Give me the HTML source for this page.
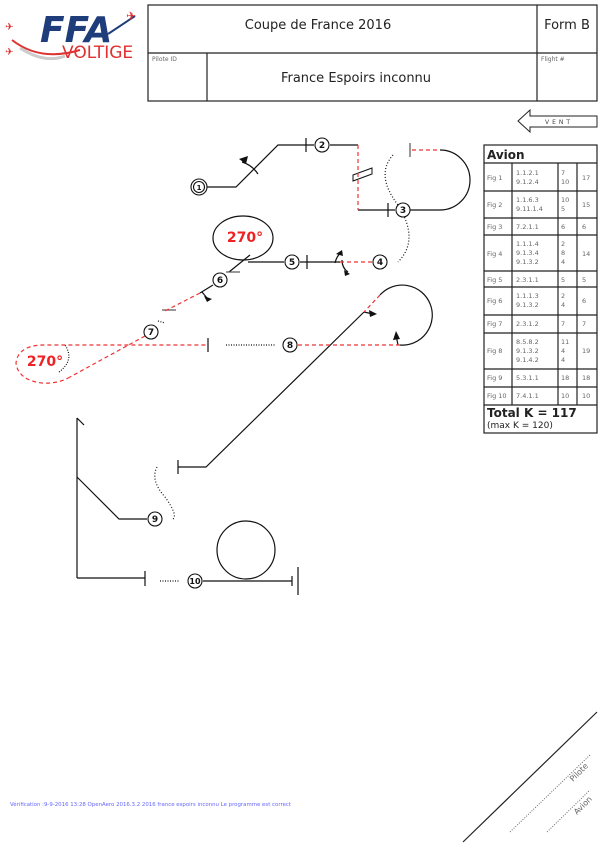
<!DOCTYPE html>
<html><head><meta charset="utf-8"><style>
body{margin:0;background:#fff;width:600px;height:847px;overflow:hidden}
svg{display:block}
text{font-family:"DejaVu Sans","Liberation Sans",sans-serif}
</style></head><body>
<svg width="600" height="847" viewBox="0 0 600 847">
<!-- logo -->
<text x="40" y="42" font-size="36" font-weight="bold" font-style="italic" fill="#1f3d7a" font-family="Liberation Sans">FFA</text>
<path d="M12 40 Q40 62 80 50" stroke="#d33" stroke-width="2" fill="none"/>
<path d="M20 48 Q45 64 65 56" stroke="#ccc" stroke-width="3" fill="none"/>
<path d="M108 34 L135 16" stroke="#1f3d7a" stroke-width="2"/>
<text x="62" y="58" font-size="17" fill="#e03030" font-family="Liberation Sans">VOLTIGE</text>
<text x="126" y="20" font-size="12" fill="#e03030">✈</text>
<text x="5" y="30" font-size="10" fill="#e03030">✈</text>
<text x="5" y="55" font-size="10" fill="#e03030">✈</text>
<!-- header -->
<g stroke="#222" stroke-width="1.2" fill="none">
<rect x="148" y="5" width="449" height="96"/>
<line x1="148" y1="53" x2="597" y2="53"/>
<line x1="537" y1="5" x2="537" y2="101"/>
<line x1="207" y1="53" x2="207" y2="101"/>
</g>
<text x="318" y="29" font-size="13" text-anchor="middle" fill="#222">Coupe de France 2016</text>
<text x="567" y="29" font-size="13" text-anchor="middle" fill="#222">Form B</text>
<text x="152" y="61" font-size="6" fill="#666">Pilote ID</text>
<text x="541" y="61" font-size="6" fill="#666">Flight #</text>
<text x="356" y="82" font-size="13" text-anchor="middle" fill="#222">France Espoirs inconnu</text>
<!-- vent -->
<polygon points="530,110 530,116 597,116 597,127 530,127 530,132 518,121" fill="none" stroke="#222"/>
<text x="559" y="124" font-size="6" fill="#444" text-anchor="middle" letter-spacing="3">VENT</text>
<!-- table -->
<g stroke="#222" stroke-width="1.2" fill="none">
<rect x="484" y="145" width="113" height="288"/>
<line x1="484" y1="163" x2="597" y2="163"/>
<line x1="484" y1="191" x2="597" y2="191"/>
<line x1="484" y1="218" x2="597" y2="218"/>
<line x1="484" y1="235" x2="597" y2="235"/>
<line x1="484" y1="271" x2="597" y2="271"/>
<line x1="484" y1="287" x2="597" y2="287"/>
<line x1="484" y1="315" x2="597" y2="315"/>
<line x1="484" y1="333" x2="597" y2="333"/>
<line x1="484" y1="369" x2="597" y2="369"/>
<line x1="484" y1="387" x2="597" y2="387"/>
<line x1="484" y1="405" x2="597" y2="405"/>
<line x1="512" y1="163" x2="512" y2="405"/>
<line x1="558" y1="163" x2="558" y2="405"/>
<line x1="577" y1="163" x2="577" y2="405"/>
</g>
<text x="487" y="159" font-size="12" font-weight="bold" fill="#222">Avion</text>
<g font-size="6.5" fill="#666">
<text x="487" y="180">Fig 1</text><text x="516" y="175">1.1.2.1</text><text x="516" y="184">9.1.2.4</text><text x="561" y="175">7</text><text x="561" y="184">10</text><text x="582" y="180">17</text>
<text x="487" y="207">Fig 2</text><text x="516" y="202">1.1.6.3</text><text x="516" y="211">9.11.1.4</text><text x="561" y="202">10</text><text x="561" y="211">5</text><text x="582" y="207">15</text>
<text x="487" y="229">Fig 3</text><text x="516" y="229">7.2.1.1</text><text x="561" y="229">6</text><text x="582" y="229">6</text>
<text x="487" y="256">Fig 4</text><text x="516" y="246">1.1.1.4</text><text x="516" y="255">9.1.3.4</text><text x="516" y="264">9.1.3.2</text><text x="561" y="246">2</text><text x="561" y="255">8</text><text x="561" y="264">4</text><text x="582" y="256">14</text>
<text x="487" y="282">Fig 5</text><text x="516" y="282">2.3.1.1</text><text x="561" y="282">5</text><text x="582" y="282">5</text>
<text x="487" y="303">Fig 6</text><text x="516" y="298">1.1.1.3</text><text x="516" y="307">9.1.3.2</text><text x="561" y="298">2</text><text x="561" y="307">4</text><text x="582" y="303">6</text>
<text x="487" y="326">Fig 7</text><text x="516" y="326">2.3.1.2</text><text x="561" y="326">7</text><text x="582" y="326">7</text>
<text x="487" y="353">Fig 8</text><text x="516" y="344">8.5.8.2</text><text x="516" y="353">9.1.3.2</text><text x="516" y="362">9.1.4.2</text><text x="561" y="344">11</text><text x="561" y="353">4</text><text x="561" y="362">4</text><text x="582" y="353">19</text>
<text x="487" y="380">Fig 9</text><text x="516" y="380">5.3.1.1</text><text x="561" y="380">18</text><text x="582" y="380">18</text>
<text x="487" y="398">Fig 10</text><text x="516" y="398">7.4.1.1</text><text x="561" y="398">10</text><text x="582" y="398">10</text>
</g>
<text x="487" y="417" font-size="12" font-weight="bold" fill="#222">Total K = 117</text>
<text x="487" y="428" font-size="9" fill="#222">(max K = 120)</text>

<!-- figures -->
<g stroke="#111" stroke-width="1.2" fill="none">
<polyline points="205,187 236,187 278,145 314,145"/>
<line x1="306" y1="138" x2="306" y2="152"/>
<path d="M242 162 Q252 165 258 174"/>
<polyline points="330,145 358,145"/>
<polygon points="353,175 372,168 372,174 353,181" stroke-width="1"/>
<polyline points="358,210 395,210"/>
<line x1="388" y1="203" x2="388" y2="217"/>
<path d="M410 210 L440 210 A30 30 0 0 0 440 150"/>
<line x1="410" y1="143" x2="410" y2="157" stroke="#555"/>
<path d="M393 155 Q375 175 398 205 Q420 240 398 262" stroke-dasharray="1,2"/>
<polyline points="340,262 300,262"/>
<line x1="307" y1="255" x2="307" y2="269"/>
<path d="M335 263 Q337 255 342 252"/>
<path d="M342 260 Q342 268 348 272"/>
<line x1="284" y1="262" x2="248" y2="262"/>
<ellipse cx="243" cy="238" rx="30" ry="22"/>
<polyline points="250,255 229,272"/>
<line x1="226" y1="272" x2="240" y2="272" stroke="#555"/>
<polyline points="213,285 200,293"/>
<path d="M202 292 L207 298"/>
<line x1="162" y1="310" x2="176" y2="310" stroke="#555"/>
<line x1="208" y1="338" x2="208" y2="352"/>
<line x1="226" y1="345" x2="275" y2="345" stroke-dasharray="1,1.5"/>
<path d="M158 321 L165 323" stroke-dasharray="1,1.5"/>
<path d="M400 345 A30 30 0 1 0 380 295"/>
<line x1="398" y1="345" x2="396" y2="335"/>
<polyline points="364,312 206,467 178,467"/>
<line x1="364" y1="312" x2="373" y2="314"/>
<line x1="178" y1="460" x2="178" y2="474"/>
<path d="M157 467 Q150 480 165 497 Q178 515 173 519" stroke-dasharray="1,2"/>
<line x1="77" y1="418" x2="77" y2="578"/>
<line x1="77" y1="418" x2="84" y2="425"/>
<polyline points="77,477 119,519 147,519"/>
<line x1="77" y1="578" x2="145" y2="578"/>
<line x1="145" y1="571" x2="145" y2="586"/>
<line x1="160" y1="581" x2="180" y2="581" stroke-dasharray="1,1.5"/>
<line x1="203" y1="581" x2="292" y2="581"/>
<line x1="292" y1="576" x2="292" y2="586"/>
<line x1="298" y1="567" x2="298" y2="595"/>
<circle cx="246" cy="550" r="29"/>
<path d="M59 372 Q75 360 65 345" stroke-dasharray="1,1.5"/>
</g>
<g fill="#111">
<polygon points="239,159 248,156 246,164"/>
<polygon points="342,250 336,254 343,256"/>
<polygon points="350,274 344,270 345,276"/>
<polygon points="212,299 204,296 207,302"/>
<polygon points="377,314 369,310 370,317"/>
<polygon points="396,331 393,340 400,339"/>
</g>
<g stroke="#e33" stroke-width="1.2" fill="none" stroke-dasharray="4,3">
<line x1="358" y1="145" x2="358" y2="210"/>
<line x1="412" y1="150" x2="440" y2="150"/>
<line x1="372" y1="262" x2="340" y2="262"/>
<line x1="200" y1="293" x2="163" y2="312"/>
<line x1="145" y1="336" x2="70" y2="377"/>
<path d="M70 377 Q58 384 42 383 Q18 380 16 363 Q18 346 42 345 L208 345"/>
<line x1="298" y1="345" x2="400" y2="345"/>
<line x1="380" y1="295" x2="364" y2="312"/>
</g>
<text x="245" y="242" font-size="14" font-weight="bold" fill="#e22" text-anchor="middle" font-family="Liberation Sans">270°</text>
<text x="45" y="366" font-size="14" font-weight="bold" fill="#e22" text-anchor="middle" font-family="Liberation Sans">270°</text>
<g stroke="#111" stroke-width="1.1" fill="#fff">
<circle cx="199" cy="187" r="8"/><circle cx="199" cy="187" r="5.5"/>
<circle cx="322" cy="145" r="7"/><circle cx="403" cy="210" r="7"/>
<circle cx="380" cy="262" r="7"/><circle cx="292" cy="262" r="7"/>
<circle cx="220" cy="280" r="7"/><circle cx="151" cy="332" r="7"/>
<circle cx="290" cy="345" r="7"/><circle cx="155" cy="519" r="7"/>
<circle cx="195" cy="581" r="7"/>
</g>
<g font-size="9" font-weight="bold" fill="#111" text-anchor="middle">
<text x="199" y="190" font-size="7">1</text>
<text x="322" y="148">2</text><text x="403" y="213">3</text><text x="380" y="265">4</text>
<text x="292" y="265">5</text><text x="220" y="283">6</text><text x="151" y="335">7</text>
<text x="290" y="348">8</text><text x="155" y="522">9</text><text x="195" y="584" font-size="8">10</text>
</g>
<text x="10" y="806" font-size="5" fill="#66f" font-family="Liberation Mono" textLength="281" lengthAdjust="spacingAndGlyphs">Vérification :9-9-2016 13:28 OpenAero 2016.3.2 2016 france espoirs inconnu Le programme est correct</text>
<line x1="463" y1="842" x2="597" y2="712" stroke="#222" stroke-width="1.2"/>
<line x1="510" y1="832" x2="590" y2="755" stroke="#666" stroke-dasharray="1,1.5"/>
<line x1="547" y1="832" x2="590" y2="790" stroke="#666" stroke-dasharray="1,1.5"/>
<text x="0" y="0" font-size="8" fill="#666" transform="translate(573,782) rotate(-45)">Pilote</text>
<text x="0" y="0" font-size="8" fill="#666" transform="translate(577,815) rotate(-45)">Avion</text>
</svg>
</body></html>
